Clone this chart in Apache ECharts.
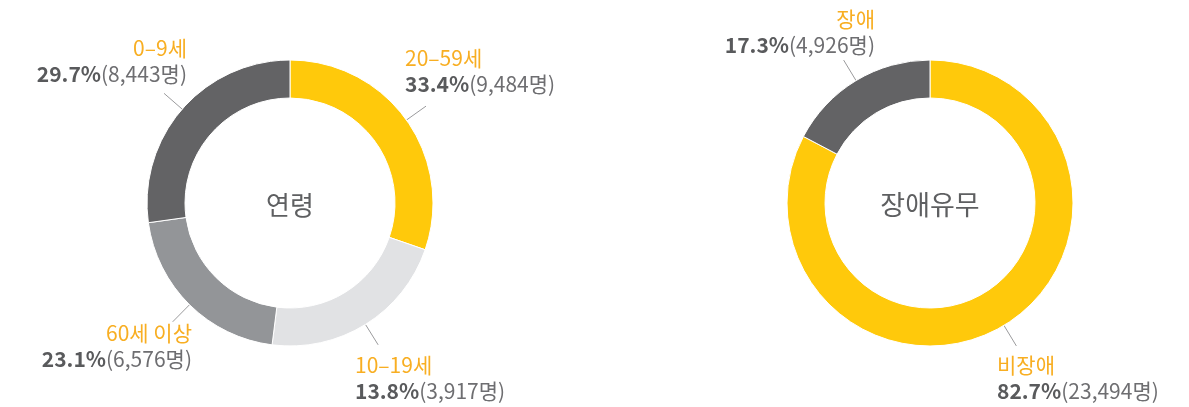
<!DOCTYPE html>
<html>
<head>
<meta charset="utf-8">
<script src="https://cdn.jsdelivr.net/npm/echarts@6/dist/echarts.min.js"></script>
<style>
  html, body { margin: 0; padding: 0; background: #fff; }
  #chart { width: 1189px; height: 407px; }
</style>
</head>
<body>
<div id="chart"></div>
<script>
// 연령 (clockwise from top)
var ageNames = ["20–59세", "10–19세", "60세 이상", "0–9세"];
var ageCounts = [9484, 3917, 6576, 8443];
// ring share as drawn in the picture (%), it does not follow the counts exactly
var ageArc = [30.3, 21.7, 20.8, 27.2];

// 장애유무
var disNames = ["비장애", "장애"];
var disCounts = [23494, 4926];
var disArc = [82.7, 17.3];

var FONT = '"Noto Sans CJK KR", "Noto Sans", sans-serif';
var ageColors = ["#FFC90B", "#E1E2E4", "#939598", "#636365"];
var disColors = ["#FFC90B", "#636365"];

// hand placed label boxes, like the reference: [x, y, align]
var ageSpots = [[405, 45, "left"], [355, 352, "left"], [192, 320, "right"], [187, 35, "right"]];
var disSpots = [[997, 352, "left"], [875, 6, "right"]];

function toItems(names, arc, colors) {
  return names.map(function (n, i) {
    return { name: n, value: arc[i], itemStyle: { color: colors[i] } };
  });
}

function makeFmt(counts) {
  var total = counts.reduce(function (a, b) { return a + b; }, 0);
  return function (p) {
    var c = counts[p.dataIndex];
    return "{name|" + p.name + "}\n{pct|" + (c / total * 100).toFixed(1) + "%}{cnt|(" +
      c.toLocaleString("en-US") + "명)}";
  };
}

function makeLayout(spots) {
  return function (params) {
    var s = spots[params.dataIndex];
    return {
      x: s[0],
      y: s[1],
      align: s[2],
      verticalAlign: "top",
      labelLinePoints: params.labelLinePoints
    };
  };
}

function donut(center, items, counts, spots) {
  return {
    type: "pie",
    center: center,
    radius: [105, 143],
    startAngle: 90,
    clockwise: true,
    avoidLabelOverlap: false,
    silent: true,
    itemStyle: { borderColor: "#fff", borderWidth: 1 },
    label: {
      show: true,
      position: "outside",
      formatter: makeFmt(counts),
      fontFamily: FONT,
      rich: {
        name: { fontSize: 21, color: "#F8AE22", lineHeight: 26, fontFamily: FONT },
        pct: { fontSize: 21, color: "#595A5C", fontWeight: "bold", lineHeight: 26, fontFamily: FONT },
        cnt: { fontSize: 21, color: "#6E6E71", lineHeight: 26, fontFamily: FONT }
      }
    },
    labelLine: {
      show: true,
      length: 24,
      length2: 0,
      lineStyle: { color: "#9A9A9C", width: 1 }
    },
    labelLayout: makeLayout(spots),
    data: items
  };
}

var chart = echarts.init(document.getElementById("chart"));
chart.setOption({
  animation: false,
  graphic: [
    {
      type: "text", x: 290, y: 205,
      style: { text: "연령", fontSize: 26, fontFamily: FONT, fill: "#5E5F61", align: "center", verticalAlign: "middle" }
    },
    {
      type: "text", x: 930, y: 205,
      style: { text: "장애유무", fontSize: 27, fontFamily: FONT, fill: "#5E5F61", align: "center", verticalAlign: "middle" }
    }
  ],
  series: [
    donut([290, 203], toItems(ageNames, ageArc, ageColors), ageCounts, ageSpots),
    donut([930, 203], toItems(disNames, disArc, disColors), disCounts, disSpots)
  ]
});
</script>
</body>
</html>
